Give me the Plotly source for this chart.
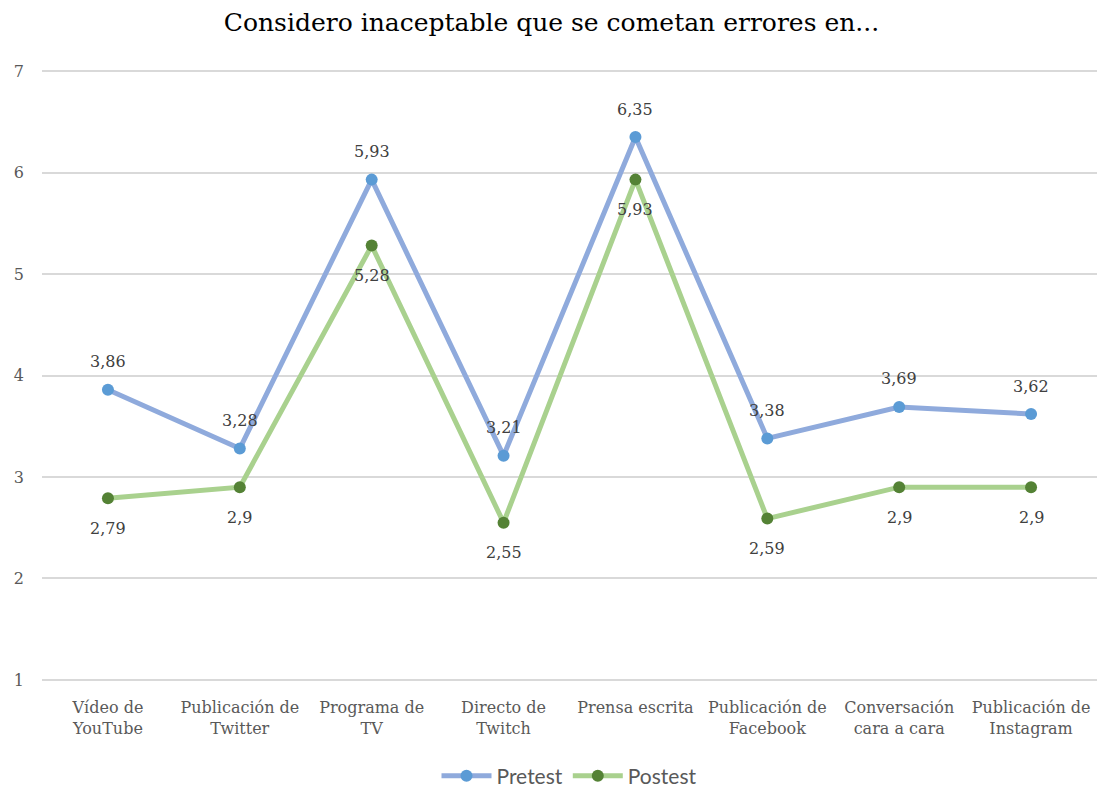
import plotly.graph_objects as go

categories = ["Vídeo de<br>YouTube", "Publicación de<br>Twitter", "Programa de<br>TV",
              "Directo de<br>Twitch", "Prensa escrita", "Publicación de<br>Facebook",
              "Conversación<br>cara a cara", "Publicación de<br>Instagram"]
pretest = [3.86, 3.28, 5.93, 3.21, 6.35, 3.38, 3.69, 3.62]
postest = [2.79, 2.90, 5.28, 2.55, 5.93, 2.59, 2.90, 2.90]
y_ticks = [1, 2, 3, 4, 5, 6, 7]

def fmt(v):
    s = ("%.2f" % v).rstrip("0").rstrip(".")
    return s.replace(".", ",")

serif = "DejaVu Serif"
fig = go.Figure()
fig.add_trace(go.Scatter(
    x=categories, y=pretest, name="Pretest", mode="lines+markers",
    line=dict(color="#8FAADC", width=5),
    marker=dict(color="#5B9BD5", size=12),
))
fig.add_trace(go.Scatter(
    x=categories, y=postest, name="Postest", mode="lines+markers",
    line=dict(color="#A9D18E", width=5),
    marker=dict(color="#548235", size=12),
))

annotations = []
for c, v in zip(categories, pretest):
    annotations.append(dict(x=c, y=v, xref="x", yref="y", text=fmt(v), showarrow=False,
                            yshift=28, font=dict(family=serif, size=16, color="#404040")))
for c, v in zip(categories, postest):
    annotations.append(dict(x=c, y=v, xref="x", yref="y", text=fmt(v), showarrow=False,
                            yshift=-30, font=dict(family=serif, size=16, color="#404040")))

fig.update_layout(
    width=1103, height=789,
    paper_bgcolor="white", plot_bgcolor="white",
    margin=dict(l=42, r=6, t=69, b=107, autoexpand=False),
    title=dict(text="Considero inaceptable que se cometan errores en...",
               x=0.5, xanchor="center", y=0.972, yanchor="middle",
               font=dict(family=serif, size=25, color="black")),
    xaxis=dict(showgrid=False, showline=False, ticks="", range=[-0.5, 7.5],
               ticklabelstandoff=14,
               tickfont=dict(family=serif, size=16, color="#595959")),
    yaxis=dict(range=[0.98, 7.02], tickvals=y_ticks, showgrid=True, gridcolor="#D9D9D9",
               gridwidth=1.5, zeroline=False, showline=False, ticks="",
               ticklabelstandoff=17,
               tickfont=dict(family=serif, size=16, color="#595959")),
    legend=dict(orientation="h", x=0.5, xanchor="center", yref="container",
                y=1 - 776 / 789, yanchor="middle", itemwidth=50,
                font=dict(family="Lato", size=21, color="#595959")),
    annotations=annotations,
    showlegend=True,
)
fig.write_html("out.html", config={"displayModeBar": False},
               post_script="document.body.style.margin='0';")
